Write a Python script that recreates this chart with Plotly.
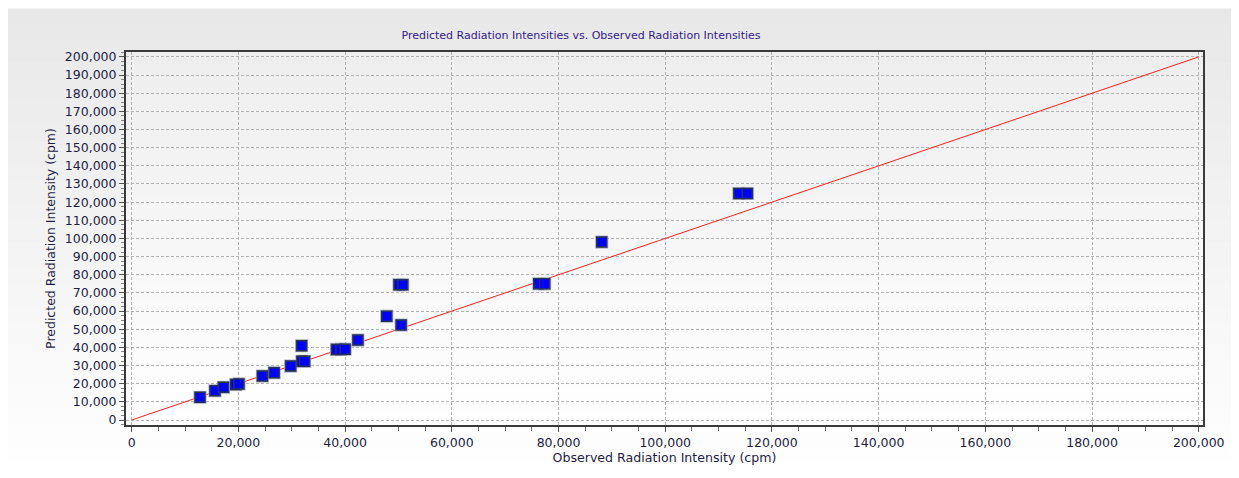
import plotly.graph_objects as go

observed = [12800, 15600, 17200, 19500, 20100, 24500, 26700, 29800, 31850, 31900, 32400,
            38400, 39200, 40000, 42400, 47800, 50500, 50100, 50800, 76300, 77400, 88100,
            113800, 115400]
predicted = [12500, 16100, 18000, 19500, 19900, 24200, 26000, 29700, 40900, 32300, 32300,
             38900, 38900, 39000, 44000, 57200, 52300, 74500, 74500, 75000, 75000, 98000,
             124800, 124800]
line_x = [0, 200000]
line_y = [0, 200000]

title_text = "Predicted Radiation Intensities vs. Observed Radiation Intensities"
x_title = "Observed Radiation Intensity (cpm)"
y_title = "Predicted Radiation Intensity (cpm)"

OFF = 8  # page body margin
SW, SH = 1239, 478  # screen size
W, H = SW - OFF, SH - OFF
# desired plot area in screen pixels
pl, pr, pt, pb = 126, 1203.5, 51.5, 425
L, T = pl - OFF, pt - OFF
R, B = W - (pr - OFF), H - (pb - OFF)
pw, ph = W - L - R, H - T - B


def sx(px):
    return (px - OFF - L) / pw


def sy(py):
    return (H - B - (py - OFF)) / ph


def mix(c1, c2, t):
    return "rgb(%d,%d,%d)" % tuple(round(a + (b - a) * t) for a, b in zip(c1, c2))


shapes = []
n = 60
top, bot = 8, SH
for i in range(n):
    y0 = top + (bot - top) * i / n
    y1 = top + (bot - top) * (i + 1) / n + 0.5
    shapes.append(dict(type="rect", xref="paper", yref="paper", layer="below",
                       x0=sx(0), x1=sx(SW + 2), y0=sy(y1), y1=sy(y0),
                       line=dict(width=0), fillcolor=mix((232, 232, 232), (255, 255, 255), i / (n - 1))))
for i in range(n):
    y0 = i / n
    y1 = (i + 1) / n + 0.002
    shapes.append(dict(type="rect", xref="paper", yref="paper", layer="below",
                       x0=0, x1=1, y0=1 - y1, y1=1 - y0,
                       line=dict(width=0), fillcolor=mix((238, 238, 238), (255, 255, 255), i / (n - 1))))

fig = go.Figure()
fig.add_trace(go.Scatter(x=line_x, y=line_y, mode="lines",
                         line=dict(color="#ff2020", width=1), hoverinfo="skip", showlegend=False))
fig.add_trace(go.Scatter(x=observed, y=predicted, mode="markers",
                         marker=dict(symbol="square", size=13, color="#a8acb8", line=dict(width=0)),
                         hoverinfo="skip", showlegend=False))
fig.add_trace(go.Scatter(x=observed, y=predicted, mode="markers",
                         marker=dict(symbol="square", size=10, color="#0000ff",
                                     line=dict(color="#243060", width=1.5)),
                         showlegend=False))

text_col = "#1e1e44"
tick_font = dict(family="DejaVu Sans", size=12.5, color=text_col)
axis_common = dict(
    showline=True, linecolor="#3a3a3a", linewidth=2, mirror=True,
    showgrid=True, gridcolor="#b4b4b4", gridwidth=1, griddash="3px,2px",
    zeroline=False, ticks="outside", ticklen=5, tickcolor="#555555", tickwidth=1,
    tickformat=",d", tickfont=tick_font,
)

fig.update_layout(
    width=W, height=H,
    margin=dict(l=L, r=R, t=T, b=B),
    paper_bgcolor="white", plot_bgcolor="rgba(0,0,0,0)",
    shapes=shapes,
    title=dict(text=title_text, x=(581 - OFF) / W, xanchor="center",
               y=1 - (35 - OFF) / H, yanchor="middle",
               font=dict(family="DejaVu Sans", size=11, color="#33208c")),
    xaxis=dict(range=[-1070, 200800], dtick=20000, tick0=0,
               title=dict(text=x_title, standoff=2,
                          font=dict(family="DejaVu Sans", size=12.6, color=text_col)),
               minor=dict(dtick=5000, ticks="outside", ticklen=4, tickcolor="#777777", showgrid=False),
               **axis_common),
    yaxis=dict(range=[-2750, 202700], dtick=10000, tick0=0,
               title=dict(text=y_title, standoff=6,
                          font=dict(family="DejaVu Sans", size=12.5, color=text_col)),
               minor=dict(dtick=2500, ticks="outside", ticklen=3, tickcolor="#888888", showgrid=False),
               **axis_common),
)

fig.write_html("out.html")
